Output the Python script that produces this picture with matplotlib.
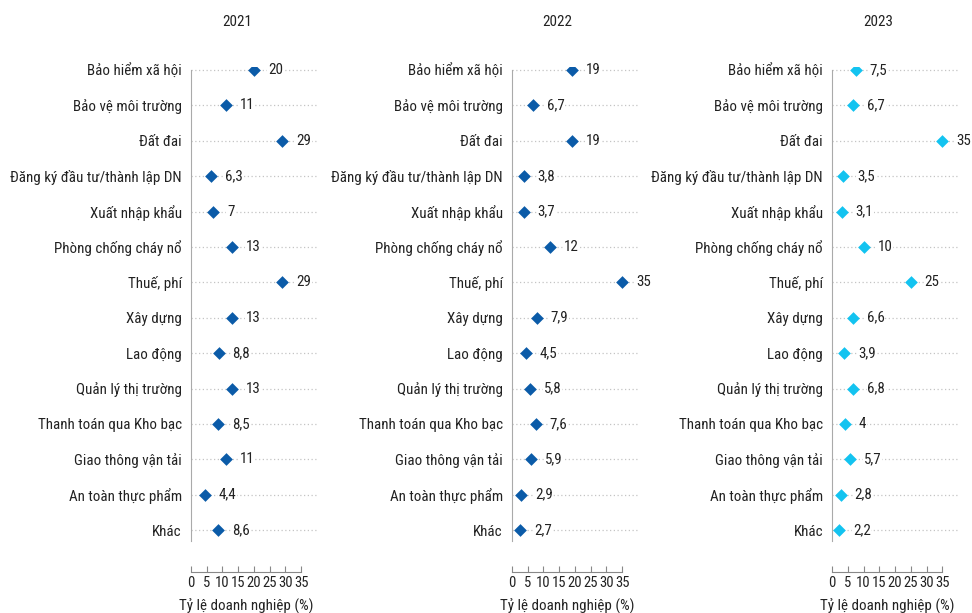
import matplotlib.pyplot as plt

plt.rcParams['font.family'] = ['Roboto Condensed', 'DejaVu Sans']

categories = ['Bảo hiểm xã hội', 'Bảo vệ môi trường', 'Đất đai',
              'Đăng ký đầu tư/thành lập DN', 'Xuất nhập khẩu',
              'Phòng chống cháy nổ', 'Thuế, phí', 'Xây dựng', 'Lao động',
              'Quản lý thị trường', 'Thanh toán qua Kho bạc',
              'Giao thông vận tải', 'An toàn thực phẩm', 'Khác']
years = ['2021', '2022', '2023']
v2021 = [20, 11, 29, 6.3, 7, 13, 29, 13, 8.8, 13, 8.5, 11, 4.4, 8.6]
v2022 = [19, 6.7, 19, 3.8, 3.7, 12, 35, 7.9, 4.5, 5.8, 7.6, 5.9, 2.9, 2.7]
v2023 = [7.5, 6.7, 35, 3.5, 3.1, 10, 25, 6.6, 3.9, 6.8, 4, 5.7, 2.8, 2.2]
values = [v2021, v2022, v2023]
colors = ['#0b5ba8', '#0b5ba8', '#13c3f0']
xticks = [0, 5, 10, 15, 20, 25, 30, 35]

fig = plt.figure(figsize=(9.72, 6.13), dpi=100)
lefts = [0.1965, 0.5267, 0.856]
title_x = [0.2438, 0.573, 0.9033]

def fmt(v):
    # dấu phẩy thập phân
    return ('%g' % v).replace('.', ',')

for i in range(3):
    ax = fig.add_axes([lefts[i], 0.118, 0.1296, 0.7735])
    ys = list(range(len(categories)))
    for y in ys:
        ax.plot([0, 40], [y, y], color='#c4c4c4', lw=0.9, ls=(0, (1, 2)), zorder=1)
    ax.scatter(values[i], ys, marker='D', s=42, color=colors[i], zorder=3, linewidths=0)
    for v, y in zip(values[i], ys):
        ax.annotate(fmt(v), (v, y), xytext=(10, 0), textcoords='offset points',
                    va='center', ha='left', fontsize=10.8, color='#222222',
                    bbox=dict(facecolor='white', edgecolor='none', pad=0.5), zorder=4)
    ax.set_xlim(0, 40)
    ax.set_ylim(13.3, -0.1)
    ax.set_yticks(ys)
    ax.set_yticklabels(categories, fontsize=10.8, color='#222222')
    ax.tick_params(axis='y', length=0, pad=6.5)
    ax.set_xticks(xticks)
    ax.tick_params(axis='x', direction='in', length=4, color='#888888',
                   labelsize=10.5, labelcolor='#222222', pad=2.5)
    for s in ['top', 'right']:
        ax.spines[s].set_visible(False)
    ax.spines['left'].set_color('#aaaaaa')
    ax.spines['left'].set_bounds(13.3, 0)
    ax.spines['bottom'].set_position(('outward', 22.7))
    ax.spines['bottom'].set_bounds(0, 35)
    ax.spines['bottom'].set_color('#888888')
    ax.set_facecolor('none')
    ax.text(17.5, -0.138, 'Tỷ lệ doanh nghiệp (%)', transform=ax.get_xaxis_transform(),
            ha='center', va='center', fontsize=10.8, color='#222222')
    fig.text(title_x[i], 0.964, years[i], ha='center', va='center', fontsize=10.8,
             color='#222222')

fig.savefig('out.png', dpi=100)
